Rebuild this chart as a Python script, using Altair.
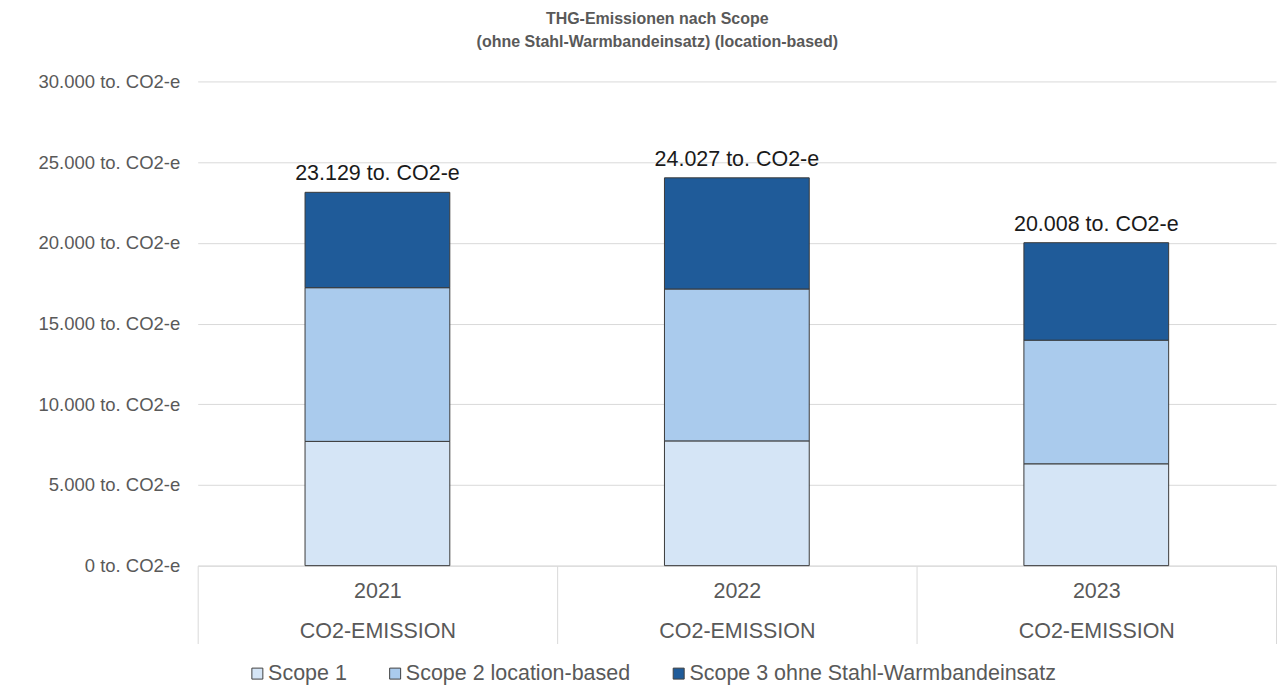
import altair as alt
import pandas as pd

years = ["2021", "2022", "2023"]
scope1 = [7700, 7730, 6310]
scope2 = [9520, 9410, 7660]
scope3 = [5909, 6887, 6038]
series = ["Scope 1", "Scope 2 location-based", "Scope 3 ohne Stahl-Warmbandeinsatz"]
colors = ["#d5e5f6", "#aacbed", "#1f5b99"]
y_ticks = [0, 5000, 10000, 15000, 20000, 25000, 30000]

rows = []
for i, yr in enumerate(years):
    for k, (s, vals) in enumerate(zip(series, [scope1, scope2, scope3])):
        rows.append({"Jahr": yr, "Scope": s, "Wert": vals[i], "ord": k})
df = pd.DataFrame(rows)

FONT = "Liberation Sans"

x_enc = alt.X(
    "Jahr:N",
    scale=alt.Scale(paddingInner=0, paddingOuter=0),
    axis=alt.Axis(
        title=None,
        labelExpr="datum.label ? [datum.label, 'CO2-EMISSION'] : ''",
        labelAngle=0,
        tickBand="extent",
        tickSize=78,
        tickColor="#d9d9d9",
        domainColor="#d9d9d9",
        labelFontSize=21.5,
        labelColor="#595959",
        labelLineHeight=40,
        labelPadding=-63,
        labelFont=FONT,
    ),
)

bars = alt.Chart(df).mark_bar(stroke="#3a3a3a", strokeWidth=1, width=145).encode(
    x=x_enc,
    y=alt.Y(
        "Wert:Q",
        stack="zero",
        scale=alt.Scale(domain=[0, 30000]),
        axis=alt.Axis(
            title=None,
            values=y_ticks,
            labelExpr="replace(format(datum.value, ','), ',', '.') + ' to. CO2-e'",
            grid=True,
            gridColor="#d9d9d9",
            domain=False,
            ticks=False,
            labelFontSize=18.5,
            labelColor="#595959",
            labelPadding=18,
            labelFont=FONT,
        ),
    ),
    color=alt.Color(
        "Scope:N",
        scale=alt.Scale(domain=series, range=colors),
        legend=alt.Legend(
            title=None,
            orient="none",
            legendX=49,
            legendY=582,
            direction="horizontal",
            symbolType="square",
            symbolSize=121,
            symbolStrokeColor="#404040",
            symbolStrokeWidth=1,
            symbolOpacity=1,
            labelFontSize=21.5,
            labelColor="#595959",
            labelFont=FONT,
            labelLimit=600,
            labelOffset=0,
            columnPadding=37,
        ),
    ),
    order=alt.Order("ord:Q"),
)

labels = alt.Chart(df).transform_aggregate(
    total="sum(Wert)", groupby=["Jahr"]
).transform_calculate(
    txt="replace(format(datum.total, ','), ',', '.') + ' to. CO2-e'"
).mark_text(
    baseline="bottom", dy=-7, fontSize=21.5, color="#1a1a1a", font=FONT
).encode(
    x=alt.X("Jahr:N"),
    y=alt.Y("total:Q"),
    text="txt:N",
)

chart = alt.layer(bars, labels).properties(
    width=1080,
    height=485,
    padding={"left": 30, "top": 2, "right": 0, "bottom": 0},
    title=alt.TitleParams(
        text=["THG-Emissionen nach Scope", "(ohne Stahl-Warmbandeinsatz) (location-based)"],
        fontSize=16,
        fontWeight="bold",
        color="#595959",
        font=FONT,
        anchor="middle",
        frame="bounds",
        offset=22,
        lineHeight=24,
    ),
).configure_view(stroke=None)

chart.save("out.html", embed_options={"renderer": "svg", "actions": False})
